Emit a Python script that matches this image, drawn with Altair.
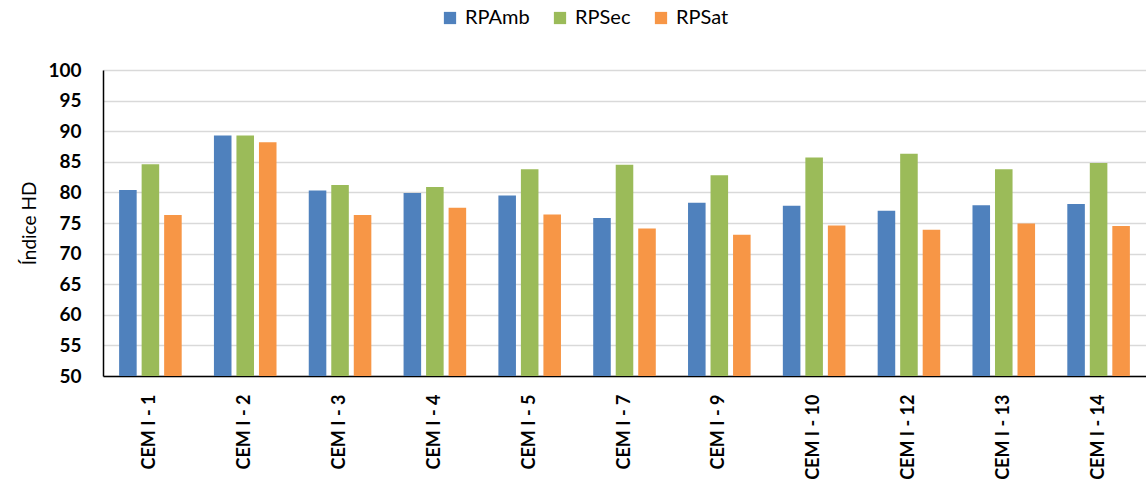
import altair as alt
import pandas as pd

categories = ["CEM I - 1", "CEM I - 2", "CEM I - 3", "CEM I - 4", "CEM I - 5", "CEM I - 7",
              "CEM I - 9", "CEM I - 10", "CEM I - 12", "CEM I - 13", "CEM I - 14"]
series = ["RPAmb", "RPSec", "RPSat"]
rpamb = [80.4, 89.3, 80.3, 79.9, 79.5, 75.8, 78.3, 77.8, 77.0, 77.9, 78.1]
rpsec = [84.6, 89.3, 81.2, 80.9, 83.8, 84.5, 82.8, 85.7, 86.3, 83.8, 84.8]
rpsat = [76.3, 88.2, 76.3, 77.5, 76.4, 74.1, 73.1, 74.6, 73.9, 74.9, 74.5]
colors = ["#4f81bd", "#9bbb59", "#f79646"]

rows = []
for name, vals in zip(series, [rpamb, rpsec, rpsat]):
    for c, v in zip(categories, vals):
        rows.append({"cat": c, "serie": name, "valor": v})
df = pd.DataFrame(rows)

FONT = "Lato"

chart = alt.Chart(df).mark_bar(clip=True).encode(
    x=alt.X("cat:N", sort=categories,
            scale=alt.Scale(paddingInner=0.34, paddingOuter=0.17),
            axis=alt.Axis(title=None, labelAngle=-90, labelFontWeight="bold", labelFontSize=18,
                          labelColor="black", labelFont=FONT, labelPadding=18, ticks=False,
                          domainColor="black", domainWidth=1.5, grid=False)),
    xOffset=alt.XOffset("serie:N", sort=series, scale=alt.Scale(paddingInner=0.22, paddingOuter=0)),
    y=alt.Y("valor:Q", scale=alt.Scale(domain=[50, 100], nice=False, zero=False),
            axis=alt.Axis(title="Índice HD", values=list(range(50, 101, 5)), labelFontWeight="bold",
                          labelFontSize=19, labelColor="black", labelFont=FONT, labelPadding=22,
                          titleFont=FONT, titleFontSize=19, titleFontWeight="normal", titleColor="black",
                          titlePadding=8, ticks=False, domainColor="black", domainWidth=1.5,
                          gridColor="#d9d9d9", gridWidth=1.5)),
    color=alt.Color("serie:N", sort=series, scale=alt.Scale(domain=series, range=colors),
                    legend=alt.Legend(title=None, orient="none", legendX=337, legendY=-62,
                                      direction="horizontal", symbolType="square", symbolSize=150,
                                      symbolStrokeWidth=0, labelFontSize=20, labelFont=FONT,
                                      labelColor="black", columnPadding=20, labelOffset=5)),
).properties(
    width=1043, height=306,
    autosize=alt.AutoSizeParams(type="none"),
    padding={"left": 103, "top": 70, "right": 0, "bottom": 116},
).configure_view(stroke=None)

chart.save("out.html", embed_options={"renderer": "svg", "actions": False})
